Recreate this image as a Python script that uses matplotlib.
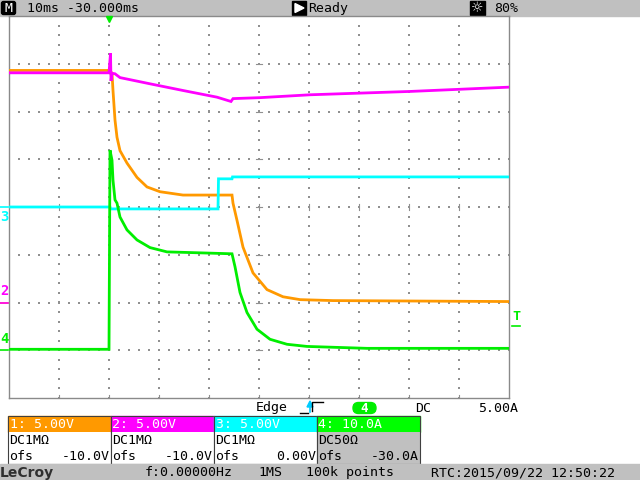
import numpy as np
import matplotlib
matplotlib.use('Agg')
import matplotlib.pyplot as plt
from matplotlib.patches import Rectangle, FancyBboxPatch, Polygon

#scope settings
time_div = 10.0      # ms per division
delay = -30.0        # ms, trigger sits 3 div left of centre
chan_names = ['1', '2', '3', '4']
chan_scale = [5.0, 5.0, 5.0, 10.0]      # V/div or A/div
chan_ofs = [-10.0, -10.0, 0.0, -30.0]
chan_unit = ['V', 'V', 'V', 'A']
chan_coupling = ['DC1M\u03a9', 'DC1M\u03a9', 'DC1M\u03a9', 'DC50\u03a9']
chan_color = ['#ff9900', '#ff00ff', '#00ffff', '#00ee00']
trig_level = 5.0     # A on channel 4

#traces, time in ms after trigger
t1 = [-20, 0.2, 0.6, 0.8, 1.2, 1.6, 2.2, 3.6, 5.6, 7.6, 10.2, 14.8, 24.6,
      24.8, 25.6, 26.8, 28.8, 31.6, 34.8, 38.2, 44.8, 80]
v1 = [24.3, 24.3, 24.0, 22.2, 19.1, 17.3, 15.9, 14.6, 13.1, 12.1, 11.6, 11.25, 11.25,
      10.4, 8.6, 5.8, 3.1, 1.35, 0.6, 0.3, 0.2, 0.1]

t2 = [-20, 0.0, 0.3, 0.4, 0.6, 1.2, 2.2, 8.2, 14.8, 21.6, 24.4, 24.8, 30.2, 40.2, 60.2, 80]
v2 = [24.05, 24.05, 26.1, 23.2, 24.0, 23.95, 23.55, 22.9, 22.2, 21.5, 21.05, 21.35,
      21.45, 21.75, 22.1, 22.55]

t3 = [-20, 0.2, 0.3, 21.8, 21.9, 24.6, 24.7, 80]
v3 = [0.0, 0.0, -0.2, -0.2, 2.95, 2.95, 3.15, 3.15]

t4 = [-20, 0.0, 0.2, 0.6, 0.8, 1.2, 1.6, 2.2, 3.6, 5.6, 8.2, 11.6, 18.2, 24.6,
      25.2, 26.2, 27.6, 29.6, 32.2, 35.6, 39.6, 51.6, 80]
v4 = [0.2, 0.2, 41.9, 39.8, 35.6, 31.5, 30.8, 27.9, 25.2, 23.1, 21.5, 20.6, 20.4, 20.2,
      17.5, 12.1, 7.9, 4.4, 2.3, 1.25, 0.8, 0.4, 0.4]

traces = [(t1, v1), (t2, v2), (t3, v3), (t4, v4)]

mono = 'DejaVu Sans Mono'
fs = 9.5
grey = '#c0c0c0'


def to_xdiv(t):
    # screen centre is at -delay ms
    return [(x + delay) / time_div for x in t]


def to_ydiv(vals, i):
    return [(v + chan_ofs[i]) / chan_scale[i] for v in vals]


fig = plt.figure(figsize=(6.4, 4.8), dpi=100)
fig.patch.set_facecolor('white')

#overlay in pixel units for the scope furniture
ov = fig.add_axes([0, 0, 1, 1], zorder=0)
ov.set_xlim(0, 640)
ov.set_ylim(480, 0)
ov.axis('off')

#main graticule
ax = fig.add_axes([9 / 640, (480 - 398) / 480, 500 / 640, 382 / 480], zorder=2)
ax.set_xlim(-5, 5)
ax.set_ylim(-4, 4)
ax.set_xticks([])
ax.set_yticks([])
for s in ax.spines.values():
    s.set_color('#8a8a8a')
    s.set_linewidth(1.0)

dot_c = '#909090'
ys = np.arange(-4, 4.001, 0.2)
xs = np.arange(-5, 5.001, 0.2)
for gx in range(-4, 5):
    ax.scatter([gx] * len(ys), ys, s=0.55, marker='s', color=dot_c, linewidths=0, zorder=1)
for gy in range(-3, 4):
    ax.scatter(xs, [gy] * len(xs), s=0.55, marker='s', color=dot_c, linewidths=0, zorder=1)
#centre cross ticks
for gx in range(-4, 5):
    ax.plot([gx, gx], [-0.07, 0.07], color=dot_c, lw=0.8, zorder=1)
for gy in range(-3, 4):
    ax.plot([-0.06, 0.06], [gy, gy], color=dot_c, lw=0.8, zorder=1)
#border ticks
for gx in range(-4, 5):
    ax.plot([gx, gx], [-4, -3.93], color=dot_c, lw=0.8, zorder=1)

#traces
for i, (t, v) in enumerate(traces):
    ax.plot(to_xdiv(t), to_ydiv(v, i), color=chan_color[i], lw=2.0,
            solid_joinstyle='miter', zorder=3 + i)

#ground markers on the left
yax = ax.get_yaxis_transform()
for i in [0, 2, 1, 3]:
    g = to_ydiv([0.0], i)[0]
    ax.plot([-9 / 500, -1 / 500], [g, g], color=chan_color[i], lw=1.2,
            transform=yax, clip_on=False)
    if i == 0:
        continue
    if i == 2:
        ax.text(-4.5 / 500, g - 0.06, chan_names[i], color=chan_color[i], fontsize=10,
                family=mono, weight='bold', ha='center', va='top', transform=yax)
    else:
        ax.text(-4.5 / 500, g + 0.09, chan_names[i], color=chan_color[i], fontsize=10,
                family=mono, weight='bold', ha='center', va='bottom', transform=yax)

#trigger level marker on the right
tl = to_ydiv([trig_level], 3)[0]
ax.plot([1 + 3 / 500, 1 + 11 / 500], [tl, tl], color=chan_color[3], lw=1.2,
        transform=yax, clip_on=False)
ax.text(1 + 7 / 500, tl + 0.07, 'T', color=chan_color[3], fontsize=9.5, family=mono,
        weight='bold', ha='center', va='bottom', transform=yax)

#trigger position marker at the top
xax = ax.get_xaxis_transform()
ax.plot(to_xdiv([0.0]), [1 - 3 / 382], marker='v', ms=5, color=chan_color[3],
        transform=xax, clip_on=False, zorder=10)

#top status bar
ov.add_patch(Rectangle((0, 0), 640, 16, color=grey))
ov.add_patch(FancyBboxPatch((1.5, 1.5), 14, 13, boxstyle='round,pad=0,rounding_size=2',
                            color='black'))
ov.text(8.5, 8.5, 'M', color='white', fontsize=9.5, family=mono, ha='center', va='center')
ov.text(27, 8.5, '10ms -30.000ms', fontsize=fs, family=mono, va='center')
ov.add_patch(Rectangle((292, 1), 14, 14, color='black'))
ov.add_patch(Polygon([[295, 3.5], [295, 12.5], [304, 8]], color='white'))
ov.text(308, 8.5, 'Ready', fontsize=fs, family=mono, va='center')
ov.add_patch(Rectangle((470, 1), 15, 14, color='black'))
ov.text(477.5, 8.5, '\u263c', color='white', fontsize=10, ha='center', va='center')
ov.text(494, 8.5, '80%', fontsize=fs, family=mono, va='center')

#trigger info row
ov.text(256, 408, 'Edge', fontsize=fs, family=mono, va='center')
ov.plot([300, 308], [413, 413], color='black', lw=1)
ov.plot([312, 312, 323], [411, 402, 402], color='black', lw=1)
ov.add_patch(Polygon([[307, 407], [313, 407], [310, 401]], color='#00ccff'))
ov.plot([310, 310], [407, 412], color='#00ccff', lw=1.2)
ov.add_patch(FancyBboxPatch((353, 402.5), 23, 11, boxstyle='round,pad=0,rounding_size=5.5',
                            color=chan_color[3]))
ov.text(364.5, 408.5, '4', color='white', fontsize=9, family=mono, weight='bold',
        ha='center', va='center')
ov.text(415, 408, 'DC', fontsize=fs, family=mono, va='center')
ov.text(478, 408, '%.2fA' % trig_level, fontsize=fs, family=mono, va='center')

#channel boxes
for i in range(4):
    x0 = 8 + 103 * i
    ov.add_patch(Rectangle((x0, 416), 103, 16, color=chan_color[i] if i < 3 else '#00ff00'))
    body = 'white' if i < 3 else grey
    ov.add_patch(Rectangle((x0, 432), 103, 32, facecolor=body, edgecolor='none'))
    ov.add_patch(Rectangle((x0, 416), 103, 48, facecolor='none', edgecolor='#404040', lw=0.8))
    unit = chan_unit[i]
    ov.text(x0 + 1.5, 424.5, '%s: %.2f%s' % (chan_names[i], chan_scale[i], unit)
            if chan_scale[i] < 10 else '%s: %.1f%s' % (chan_names[i], chan_scale[i], unit),
            color='white', fontsize=fs, family=mono, va='center')
    ov.text(x0 + 1.5, 440.5, chan_coupling[i], fontsize=fs, family=mono, va='center')
    ov.text(x0 + 1.5, 456.5, 'ofs', fontsize=fs, family=mono, va='center')
    ofs_txt = '%.2f%s' % (chan_ofs[i], unit) if chan_ofs[i] == 0 else '%.1f%s' % (chan_ofs[i], unit)
    ov.text(x0 + 102, 456.5, ofs_txt, fontsize=fs, family=mono, va='center', ha='right')

#bottom status bar
ov.add_patch(Rectangle((0, 464), 640, 16, color=grey))
ov.text(0, 472.5, 'LeCroy', fontsize=10, family='DejaVu Sans', weight='bold',
        color='#303030', va='center')
ov.text(145, 472.5, 'f:0.00000Hz', fontsize=fs, family=mono, va='center')
ov.text(258, 472.5, '1MS', fontsize=fs, family=mono, va='center')
ov.text(306, 472.5, '100k points', fontsize=fs, family=mono, va='center')
ov.text(431, 472.5, 'RTC:2015/09/22 12:50:22', fontsize=fs, family=mono, va='center')

plt.savefig('out.png', dpi=100)
